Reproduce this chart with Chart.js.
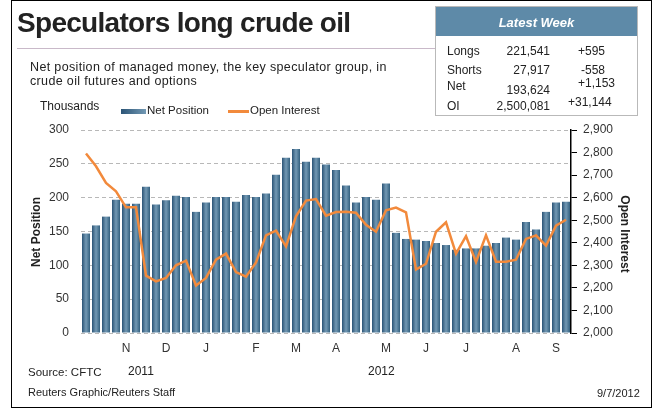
<!DOCTYPE html>
<html>
<head>
<meta charset="utf-8">
<script src="https://cdn.jsdelivr.net/npm/chart.js@4"></script>
<style>
  body { margin: 0; background: #fff; }
  #wrap { position: relative; width: 653px; height: 409px; font-family: "Liberation Sans", Arial, sans-serif; color: #222; overflow: hidden; }
  #wrap canvas { position: absolute; left: 0; top: 0; }
  .t { position: absolute; white-space: nowrap; }
  #frame { position: absolute; left: 11px; top: 0; width: 641px; height: 408px; border: 1px solid #000; box-sizing: border-box; }
  #rule { position: absolute; left: 17px; top: 48px; width: 418px; height: 1px; background: #c9b9c9; }
  #box { position: absolute; left: 435px; top: 6px; width: 203px; height: 110px; border: 1px solid #b9b9b9; box-sizing: border-box; background: #fff; }
  #boxhead { position: absolute; left: 0; top: 0; width: 201px; height: 29px; background: #5e8aa8; }
  .rot { position: absolute; font-weight: bold; font-size: 12px; line-height: 12px; white-space: nowrap; transform-origin: center; }
</style>
</head>
<body>
<div id="wrap">
  <canvas id="chart" width="653" height="409"></canvas>
  <div id="frame"></div>
  <div class="t" style="left:17px;top:9px;font-size:28px;line-height:28px;font-weight:bold;letter-spacing:-0.7px;color:#222">Speculators long crude oil</div>
  <div id="rule"></div>
  <div class="t" style="left:30px;top:60px;font-size:12.5px;line-height:14px;letter-spacing:0.35px">Net position of managed money, the key speculator group, in<br>crude oil futures and options</div>
  <div class="t" style="left:40px;top:100px;font-size:12px;line-height:12px;">Thousands</div>
  <div id="legend"></div>

  <div id="box">
    <div id="boxhead"></div>
    <div class="t" style="left:0;width:201px;text-align:center;top:9px;font-size:13px;line-height:13px;font-weight:bold;font-style:italic;color:#fff">Latest Week</div>
  </div>
  <div id="weekRows"></div>

  <div class="rot" style="left:1px;top:226px;width:70px;text-align:center;transform:rotate(-90deg)">Net Position</div>
  <div class="rot" style="left:585px;top:228px;width:80px;text-align:center;transform:rotate(90deg)">Open Interest</div>

  <div class="t" style="left:28px;top:366px;font-size:11.5px;line-height:12px;">Source: CFTC</div>
  <div class="t" style="left:128px;top:365px;font-size:12px;line-height:12px;">2011</div>
  <div class="t" style="left:368px;top:365px;font-size:12px;line-height:12px;">2012</div>
  <div class="t" style="left:28px;top:386px;font-size:11px;line-height:12px;">Reuters Graphic/Reuters Staff</div>
  <div class="t" style="left:597px;top:387px;font-size:11px;line-height:12px;">9/7/2012</div>
</div>

<script>
// weekly data, Oct 2011 - Sep 2012 (thousands of contracts)
const monthLabels = ['', '', '', '', 'N', '', '', '', 'D', '', '', '', 'J', '', '', '', '', 'F', '', '', '', 'M', '', '', '', 'A',
  '', '', '', '', 'M', '', '', '', 'J', '', '', '', 'J', '', '', '', '', 'A', '', '', '', 'S', ''];
const netPosition = [147, 159, 172, 197, 191, 191, 216, 190, 196, 203, 201, 179, 193, 201, 201, 194, 204, 201, 206, 234,
  259, 272, 253, 259, 249, 241, 218, 193, 201, 197, 221, 148, 139, 138, 136, 133, 130, 123, 125, 125,
  129, 133, 141, 138, 164, 153, 179, 193, 194];
const openInterest = [2796, 2739, 2665, 2628, 2557, 2557, 2254, 2229, 2244, 2300, 2321, 2211, 2244, 2325, 2352, 2270, 2250, 2313, 2433, 2454,
  2384, 2517, 2587, 2594, 2520, 2536, 2538, 2533, 2480, 2449, 2544, 2556, 2535, 2281, 2307, 2449, 2491, 2352, 2429, 2315,
  2433, 2316, 2316, 2325, 2417, 2433, 2387, 2476, 2502];

// latest week table
const weekNames = ['Longs', 'Shorts', 'Net', 'OI'];
const weekValues = ['221,541', '27,917', '193,624', '2,500,081'];
const weekChanges = ['+595', '-558', '+1,153', '+31,144'];

const BAR_DARK = '#2b5476';
const BAR_LIGHT = '#7399b4';
const ORANGE = '#f28a3c';

// tabla "Latest Week"
(function buildWeekTable() {
    const holder = document.getElementById('weekRows');
    const rowTop = [45, 64, 80, 100];
    const valTop = [45, 64, 84, 100];
    const chgTop = [45, 64, 77, 96];
    const chgLeft = [578, 581, 578, 568];
    weekNames.forEach((name, i) => {
        holder.insertAdjacentHTML('beforeend',
            `<div class="t" style="left:447px;top:${rowTop[i]}px;font-size:12px;line-height:12px">${name}</div>` +
            `<div class="t" style="left:470px;width:80px;text-align:right;top:${valTop[i]}px;font-size:12px;line-height:12px">${weekValues[i]}</div>` +
            `<div class="t" style="left:${chgLeft[i]}px;top:${chgTop[i]}px;font-size:12px;line-height:12px">${weekChanges[i]}</div>`);
    });
})();

// legend
document.getElementById('legend').innerHTML =
    `<div class="t" style="left:121px;top:109px;width:25px;height:5px;background:linear-gradient(90deg, ${BAR_DARK}, ${BAR_LIGHT})"></div>` +
    `<div class="t" style="left:147px;top:104px;font-size:11.5px;line-height:12px">Net Position</div>` +
    `<div class="t" style="left:228px;top:110px;width:21px;height:2.5px;background:${ORANGE}"></div>` +
    `<div class="t" style="left:250px;top:104px;font-size:11.5px;line-height:12px">Open Interest</div>`;

// degradado horizontal en cada barra
function barFill(context) {
    const chart = context.chart;
    const xScale = chart.scales.x;
    if (!xScale || !chart.chartArea) return '#4d7596';
    const cx = xScale.getPixelForValue(context.dataIndex);
    const half = (xScale.width / netPosition.length) * 0.8 / 2;
    const g = chart.ctx.createLinearGradient(cx - half, 0, cx + half, 0);
    g.addColorStop(0, BAR_DARK);
    g.addColorStop(0.5, BAR_LIGHT);
    g.addColorStop(1, '#33607f');
    return g;
}

Chart.defaults.font.family = '"Liberation Sans", Arial, sans-serif';
Chart.defaults.font.size = 12;
Chart.defaults.color = '#333';

new Chart(document.getElementById('chart'), {
    data: {
        labels: monthLabels,
        datasets: [
            {
                type: 'line',
                label: 'Open Interest',
                data: openInterest,
                yAxisID: 'y1',
                borderColor: ORANGE,
                borderWidth: 2.5,
                pointRadius: 0,
                tension: 0,
                order: 0
            },
            {
                type: 'bar',
                label: 'Net Position',
                data: netPosition,
                yAxisID: 'y',
                backgroundColor: barFill,
                categoryPercentage: 1,
                barPercentage: 0.8,
                order: 1
            }
        ]
    },
    options: {
        responsive: false,
        animation: false,
        layout: { padding: { top: 130, left: 0, right: 0, bottom: 0 } },
        plugins: { legend: { display: false }, tooltip: { enabled: false } },
        scales: {
            x: {
                grid: { display: false, drawTicks: false },
                border: { display: false },
                ticks: { autoSkip: false, maxRotation: 0, padding: 8, color: '#333' },
                afterFit: (s) => { s.height = 76; }
            },
            y: {
                position: 'left',
                min: 0, max: 300,
                ticks: { stepSize: 50, padding: 12, color: '#333' },
                grid: { color: '#b8b8b8', drawTicks: false },
                border: { display: false, dash: [4, 3] },
                afterFit: (s) => { s.width = 81; }
            },
            y1: {
                position: 'right',
                min: 2000, max: 2900,
                ticks: {
                    stepSize: 100, padding: 6, color: '#333',
                    callback: (v) => v.toLocaleString('en-US')
                },
                grid: { drawOnChartArea: false, drawTicks: true, tickLength: 6, color: '#000' },
                border: { display: true, color: '#000', width: 1.5 },
                afterFit: (s) => { s.width = 82; }
            }
        }
    }
});
</script>
</body>
</html>
